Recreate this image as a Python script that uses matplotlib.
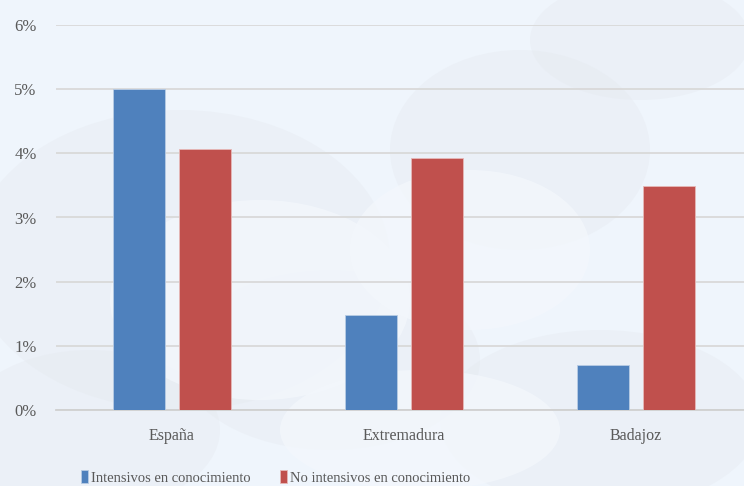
import numpy as np
import matplotlib
matplotlib.use("Agg")
import matplotlib.pyplot as plt
from matplotlib.patches import Ellipse

# Chart data (percent)
categories = ["España", "Extremadura", "Badajoz"]
intensivos = [5.00, 1.48, 0.70]
no_intensivos = [4.07, 3.93, 3.49]
series_labels = ["Intensivos en conocimiento", "No intensivos en conocimiento"]
yticks = [0, 1, 2, 3, 4, 5, 6]

BLUE = "#4F81BD"
RED = "#C0504D"
TEXT = "#595959"

plt.rcParams["font.family"] = ["Liberation Serif", "DejaVu Serif"]

fig = plt.figure(figsize=(7.44, 4.86), dpi=100)
fig.patch.set_facecolor("#EFF5FC")

# faint cloud decoration in the background
bg = fig.add_axes([0, 0, 1, 1], zorder=0)
bg.set_xlim(0, 744)
bg.set_ylim(486, 0)
bg.axis("off")
clouds = [(180, 260, 420, 300), (520, 150, 260, 200), (330, 360, 300, 180),
          (640, 40, 220, 120), (90, 430, 260, 160), (600, 420, 320, 180)]
for cx, cy, w, h in clouds:
    bg.add_patch(Ellipse((cx, cy), w, h, color="#E4E8EE", alpha=0.35, lw=0))
for cx, cy, w, h in [(260, 300, 300, 200), (470, 250, 240, 160), (420, 430, 280, 120)]:
    bg.add_patch(Ellipse((cx, cy), w, h, color="#F3F7FC", alpha=0.8, lw=0))

ax = fig.add_axes([56 / 744, 76 / 486, 688 / 744, 385 / 486], zorder=1)
ax.set_facecolor("none")

x = np.arange(len(categories))
width = 0.224
offset = 0.142
ax.bar(x - offset, intensivos, width, color=BLUE, edgecolor="#B8CCE4",
       linewidth=0.6, label=series_labels[0], zorder=3)
ax.bar(x + offset, no_intensivos, width, color=RED, edgecolor="#E6B9B8",
       linewidth=0.6, label=series_labels[1], zorder=3)

ax.set_xlim(-0.5, -0.5 + 688 / 232)
ax.set_ylim(0, 6)
ax.set_yticks(yticks)
ax.set_yticklabels([f"{v}%" for v in yticks])
ax.set_xticks(x)
ax.set_xticklabels(categories)

ax.yaxis.grid(True, color="#D9D9D9", linewidth=1.3)
ax.set_axisbelow(True)
for side in ["top", "right", "left"]:
    ax.spines[side].set_visible(False)
ax.spines["bottom"].set_color("#D0D0D0")
ax.spines["bottom"].set_linewidth(1.3)

ax.tick_params(axis="y", length=0, labelsize=12, labelcolor=TEXT, pad=14)
ax.tick_params(axis="x", length=0, labelsize=11.5, labelcolor=TEXT, pad=13)

fig.legend(loc="lower center", bbox_to_anchor=(276 / 744, -0.012), ncol=2,
           frameon=False, fontsize=10.5, labelcolor=TEXT, handlelength=0.45,
           handleheight=0.9, handletextpad=0.25, columnspacing=2.0,
           borderpad=0.0)

fig.savefig("out.png", dpi=100, facecolor=fig.get_facecolor())
